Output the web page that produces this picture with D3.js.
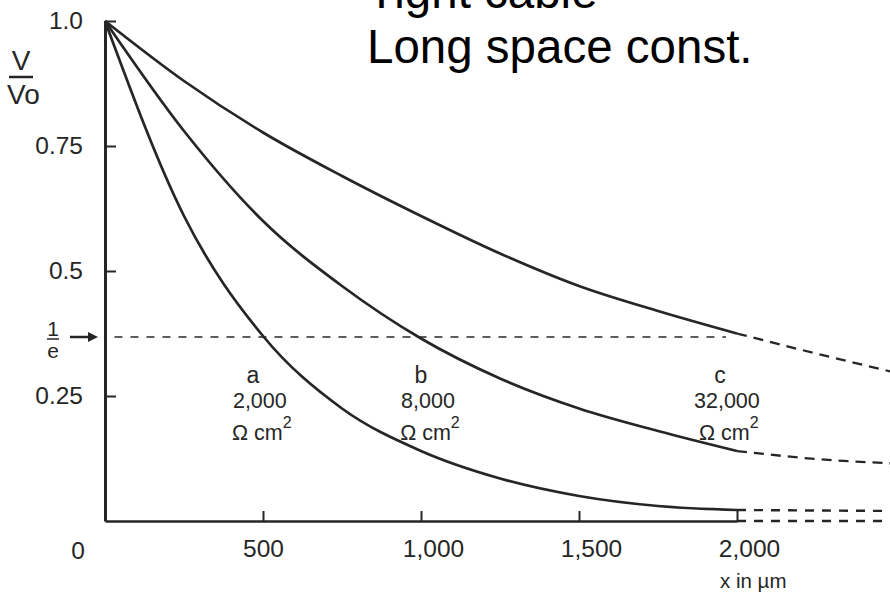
<!DOCTYPE html>
<html><head><meta charset="utf-8">
<script src="https://cdn.jsdelivr.net/npm/d3@7"></script>
<style>html,body{margin:0;padding:0;background:#fff;} svg{display:block;}</style>
</head><body><svg id="chart" width="890" height="594"></svg>
<script>
// Distance along the cable (µm) and relative voltage V/Vo
const distance = [0, 250, 500, 750, 1000, 1250, 1500, 1750, 2000];
const decayA = [1.0, 0.61, 0.37, 0.225, 0.14, 0.085, 0.05, 0.03, 0.022];
const decayB = [1.0, 0.78, 0.60, 0.47, 0.365, 0.285, 0.225, 0.18, 0.14];
const decayC = [1.0, 0.88, 0.777, 0.69, 0.61, 0.535, 0.47, 0.42, 0.375];
// Continuation past 2,000 µm (dashed)
const extDistance = [2000, 2250, 2500];
const extA = [0.022, 0.021, 0.02];
const extB = [0.14, 0.124, 0.115];
const extC = [0.375, 0.335, 0.297];
const curveNames = ["a", "b", "c"];
const resistances = ["2,000", "8,000", "32,000"];
const xTickValues = [500, 1000, 1500, 2000];
const xTickLabels = ["500", "1,000", "1,500", "2,000"];
const yTickValues = [0.25, 0.5, 0.75, 1.0];
const yTickLabels = ["0.25", "0.5", "0.75", "1.0"];
const oneOverE = 0.368;

const ink = "#262626";
const font = "'Liberation Sans', Arial, Helvetica, sans-serif";
const svg = d3.select("#chart");

const x = d3.scaleLinear().domain([0, 2000]).range([105, 737]);
const y = d3.scaleLinear().domain([0, 1]).range([521, 21]);

const line = d3.line().x(d => x(d[0])).y(d => y(d[1])).curve(d3.curveMonotoneX);
const zipped = (xs, ys) => xs.map((v, i) => [v, ys[i]]);

// Heading
const head = svg.append("g").attr("font-family", font).attr("font-size", 47.5).attr("fill", "#000");
head.append("text").attr("x", 367).attr("y", 8).text("Tight cable =");
head.append("text").attr("x", 367).attr("y", 63).text("Long space const.");

// Y axis
const yAxis = d3.axisLeft(y).tickValues(yTickValues)
  .tickFormat((d, i) => yTickLabels[i]).tickSizeInner(-11).tickSizeOuter(0).tickPadding(22);
const gy = svg.append("g").attr("transform", `translate(${x(0)},0)`).call(yAxis);
gy.select(".domain").attr("stroke", ink).attr("stroke-width", 3);
gy.selectAll(".tick line").attr("stroke", ink).attr("stroke-width", 2);
gy.selectAll(".tick text").attr("font-family", font).attr("font-size", 24.5).attr("fill", ink);

// X axis
const xAxis = d3.axisBottom(x).tickValues(xTickValues)
  .tickFormat((d, i) => xTickLabels[i]).tickSizeInner(-10).tickSizeOuter(0).tickPadding(19);
const gx = svg.append("g").attr("transform", `translate(0,${y(0)})`).call(xAxis);
gx.select(".domain").attr("stroke", ink).attr("stroke-width", 2.5);
gx.selectAll(".tick line").attr("stroke", ink).attr("stroke-width", 2);
gx.selectAll(".tick text").attr("font-family", font).attr("font-size", 24.5).attr("fill", ink)
  .attr("dx", (d, i) => xTickLabels[i].includes(",") ? 12 : 0);

// Origin label and axis titles
const lab = svg.append("g").attr("font-family", font).attr("fill", ink);
lab.append("text").attr("x", 78).attr("y", y(0) + 38).attr("text-anchor", "middle")
  .attr("font-size", 24.5).text("0");
lab.append("text").attr("x", 720).attr("y", 588).attr("font-size", 20.5).text("x in µm");
lab.append("text").attr("x", 21).attr("y", 70).attr("text-anchor", "middle").attr("font-size", 28).text("V");
lab.append("line").attr("x1", 9).attr("x2", 33).attr("y1", 77).attr("y2", 77)
  .attr("stroke", ink).attr("stroke-width", 2.5);
lab.append("text").attr("x", 7).attr("y", 104).attr("font-size", 28).text("Vo");

// 1/e marker
const ey = y(oneOverE);
lab.append("text").attr("x", 53).attr("y", ey - 1).attr("text-anchor", "middle").attr("font-size", 21).text("1");
lab.append("line").attr("x1", 47).attr("x2", 59).attr("y1", ey + 2).attr("y2", ey + 2)
  .attr("stroke", ink).attr("stroke-width", 1.5);
lab.append("text").attr("x", 53).attr("y", ey + 21).attr("text-anchor", "middle").attr("font-size", 21).text("e");
lab.append("line").attr("x1", 70).attr("x2", 90).attr("y1", ey).attr("y2", ey)
  .attr("stroke", ink).attr("stroke-width", 2.5);
lab.append("path").attr("d", `M98,${ey} L88,${ey - 5} L88,${ey + 5} Z`).attr("fill", ink);
svg.append("line").attr("x1", x(30)).attr("x2", x(1965)).attr("y1", ey).attr("y2", ey)
  .attr("stroke", ink).attr("stroke-width", 1.6).attr("stroke-dasharray", "8,8");

// Decay curves
const series = [decayA, decayB, decayC];
const extSeries = [extA, extB, extC];
series.forEach(vals => {
  svg.append("path").attr("d", line(zipped(distance, vals)))
    .attr("fill", "none").attr("stroke", ink).attr("stroke-width", 2.7);
});
extSeries.forEach((vals, i) => {
  svg.append("path").attr("d", line(zipped(extDistance, vals)))
    .attr("fill", "none").attr("stroke", ink).attr("stroke-width", i === 0 ? 2.4 : 2.3)
    .attr("stroke-dasharray", i === 0 ? "9,8" : "10,7");
});
// dashed continuation of the baseline
svg.append("line").attr("x1", x(2000)).attr("x2", x(2500)).attr("y1", y(0)).attr("y2", y(0))
  .attr("stroke", ink).attr("stroke-width", 2.4).attr("stroke-dasharray", "9,8");

// Curve labels: name, membrane resistance, unit
const labelAt = [490, 1022, 1968];
curveNames.forEach((name, i) => {
  const cx = x(labelAt[i]);
  lab.append("text").attr("x", cx - 7).attr("y", 383).attr("text-anchor", "middle")
    .attr("font-size", 23).text(name);
  lab.append("text").attr("x", cx).attr("y", 408).attr("text-anchor", "middle")
    .attr("font-size", 21.5).text(resistances[i]);
  const u = lab.append("text").attr("x", cx + 2).attr("y", 440).attr("text-anchor", "middle")
    .attr("font-size", 21.5);
  u.append("tspan").text("Ω cm");
  u.append("tspan").attr("dy", -12).attr("font-size", 16).text("2");
});
</script>
</body></html>
